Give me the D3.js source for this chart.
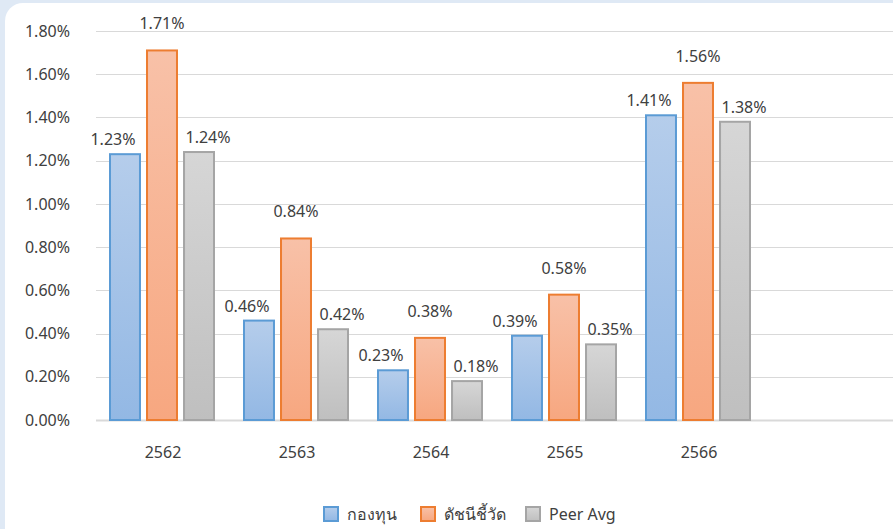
<!DOCTYPE html>
<html>
<head>
<meta charset="utf-8">
<script src="https://cdn.jsdelivr.net/npm/d3@7"></script>
<style>
  body { margin: 0; background: #dfe9f5; overflow: hidden; }
  text { font-family: "Noto Sans", "DejaVu Sans", sans-serif; fill: #404040; }
</style>
</head>
<body>
<svg id="chart" width="893" height="529"></svg>
<script>
const years = ["2562", "2563", "2564", "2565", "2566"];
const seriesNames = ["กองทุน", "ดัชนีชี้วัด", "Peer Avg"];
const fundValues = [1.23, 0.46, 0.23, 0.39, 1.41];
const benchValues = [1.71, 0.84, 0.38, 0.58, 1.56];
const peerValues = [1.24, 0.42, 0.18, 0.35, 1.38];
const yTicks = [0, 0.2, 0.4, 0.6, 0.8, 1.0, 1.2, 1.4, 1.6, 1.8];

const seriesValues = [fundValues, benchValues, peerValues];

// look of each series: stroke, gradient top/bottom, label nudge
const styles = [
    { stroke: "#5b9bd5", top: "#b5cdeb", bottom: "#93b8e4", dx: -12, dy: -15 },
    { stroke: "#ed7d31", top: "#f8c1a8", bottom: "#f7a780", dx: 0, dy: -27 },
    { stroke: "#a5a5a5", top: "#d6d6d6", bottom: "#bfbfbf", dx: 9, dy: -15 }
];

const fontSize = "16px";

const svg = d3.select("#chart");

// white panel with rounded corner
svg.append("rect")
    .attr("x", 5).attr("y", 3)
    .attr("width", 940).attr("height", 580)
    .attr("rx", 18)
    .attr("fill", "#ffffff");

const defs = svg.append("defs");
styles.forEach((s, i) => {
    let g = defs.append("linearGradient")
        .attr("id", "grad" + i)
        .attr("x1", 0).attr("y1", 0).attr("x2", 0).attr("y2", 1);
    g.append("stop").attr("offset", "0%").attr("stop-color", s.top);
    g.append("stop").attr("offset", "100%").attr("stop-color", s.bottom);
});

const x = d3.scaleBand()
    .domain(years)
    .range([96, 766]);

const xSub = d3.scaleBand()
    .domain(seriesNames)
    .range([14, 118])
    .paddingInner(0.19);

const y = d3.scaleLinear()
    .domain([0, 1.8])
    .range([420, 31]);

// gridlines
svg.append("g")
    .selectAll("line")
    .data(yTicks)
    .join("line")
    .attr("x1", 96)
    .attr("x2", 893)
    .attr("y1", d => Math.round(y(d)) + 0.5)
    .attr("y2", d => Math.round(y(d)) + 0.5)
    .attr("stroke", "#d9d9d9")
    .attr("stroke-width", d => d === 0 ? 2 : 1);

// y axis labels
const yAxis = svg.append("g")
    .attr("transform", "translate(70,0)")
    .call(d3.axisLeft(y).tickValues(yTicks).tickSize(0).tickPadding(0)
        .tickFormat(d => d.toFixed(2) + "%"));
yAxis.select(".domain").remove();
yAxis.selectAll("text")
    .style("font-size", fontSize)
    .style("font-family", null)
    .attr("fill", "#404040");

// x axis labels
const xAxis = svg.append("g")
    .attr("transform", "translate(0,420)")
    .call(d3.axisBottom(x).tickSize(0).tickPadding(27));
xAxis.select(".domain").remove();
xAxis.selectAll("text")
    .style("font-size", fontSize)
    .style("font-family", null)
    .attr("fill", "#404040");

// bars
seriesNames.forEach((name, i) => {
    let s = styles[i];
    let data = years.map((yr, j) => ({ year: yr, value: seriesValues[i][j] }));

    svg.append("g")
        .selectAll("rect")
        .data(data)
        .join("rect")
        .attr("x", d => x(d.year) + xSub(name))
        .attr("y", d => y(d.value))
        .attr("width", xSub.bandwidth())
        .attr("height", d => y(0) - y(d.value))
        .attr("fill", "url(#grad" + i + ")")
        .attr("stroke", s.stroke)
        .attr("stroke-width", 2);

    svg.append("g")
        .selectAll("text")
        .data(data)
        .join("text")
        .attr("x", d => x(d.year) + xSub(name) + xSub.bandwidth() / 2 + s.dx)
        .attr("y", d => y(d.value) + s.dy + 6)
        .attr("text-anchor", "middle")
        .style("font-size", fontSize)
        .text(d => d.value.toFixed(2) + "%");
});

// legend
const legendX = [324, 421, 526];
const legend = svg.append("g")
    .selectAll("g")
    .data(seriesNames)
    .join("g")
    .attr("transform", (d, i) => `translate(${legendX[i]}, 507)`);

legend.append("rect")
    .attr("width", 14).attr("height", 14)
    .attr("fill", (d, i) => "url(#grad" + i + ")")
    .attr("stroke", (d, i) => styles[i].stroke)
    .attr("stroke-width", 2);

legend.append("text")
    .attr("x", 23)
    .attr("y", 13)
    .style("font-size", fontSize)
    .text(d => d);
</script>
</body>
</html>
